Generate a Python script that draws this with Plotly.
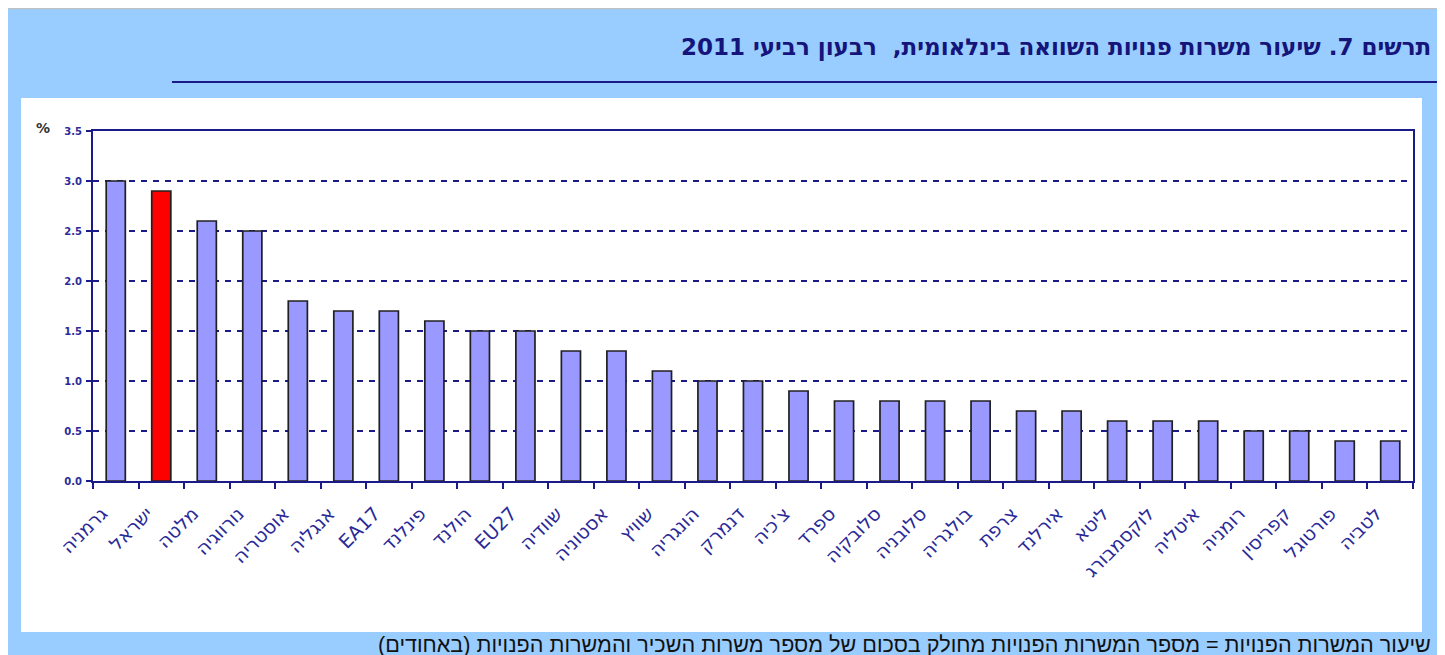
import plotly.graph_objects as go

countries = ["גרמניה", "ישראל", "מלטה", "נורווגיה", "אוסטריה", "אנגליה", "EA17", "פינלנד",
             "הולנד", "EU27", "שוודיה", "אסטוניה", "שוויץ", "הונגריה", "דנמרק", "צ'כיה",
             "ספרד", "סלובקיה", "סלובניה", "בולגריה", "צרפת", "אירלנד", "ליטא", "לוקסמבורג",
             "איטליה", "רומניה", "קפריסין", "פורטוגל", "לטביה"]
rates = [3.0, 2.9, 2.6, 2.5, 1.8, 1.7, 1.7, 1.6, 1.5, 1.5, 1.3, 1.3, 1.1, 1.0, 1.0, 0.9,
         0.8, 0.8, 0.8, 0.8, 0.7, 0.7, 0.6, 0.6, 0.6, 0.5, 0.5, 0.4, 0.4]
highlight = "ישראל"
y_ticks = [0.0, 0.5, 1.0, 1.5, 2.0, 2.5, 3.0, 3.5]

title_text = "תרשים 7. שיעור משרות פנויות השוואה בינלאומית,  רבעון רביעי 2011"
note_text = "שיעור המשרות הפנויות = מספר המשרות הפנויות מחולק בסכום של מספר משרות השכיר והמשרות הפנויות (באחודים)"

# the page body adds an 8px offset; positions below are given in screen pixels
OFF = 8
W, H = 1445, 655
SL, SR, ST, SB = 93, 1413, 131, 481          # plot area on screen
L, R, T, B = SL - OFF, SR - OFF, ST - OFF, SB - OFF
NAVY = "#1a1a88"


def px(xs):
    return (xs - SL) / (SR - SL)


def py(ys):
    return (SB - ys) / (SB - ST)


colors = ["#FF0000" if c == highlight else "#9999FF" for c in countries]

fig = go.Figure(go.Bar(
    x=countries, y=rates,
    marker=dict(color=colors, line=dict(color="#202020", width=1.7)),
    hoverinfo="x+y",
))

shapes = [
    # white panel
    dict(type="rect", xref="paper", yref="paper", x0=px(21), x1=px(1422), y0=py(632), y1=py(98),
         fillcolor="white", line=dict(width=0), layer="below"),
    # grey top border line
    dict(type="line", xref="paper", yref="paper", x0=px(0), x1=px(1440), y0=py(8.5), y1=py(8.5),
         line=dict(color="#c0c0c0", width=1.5), layer="below"),
    # right white strip and grey line
    dict(type="rect", xref="paper", yref="paper", x0=px(1439), x1=px(W + OFF), y0=py(H + OFF), y1=py(0),
         fillcolor="white", line=dict(width=0), layer="below"),
    dict(type="line", xref="paper", yref="paper", x0=px(1438.5), x1=px(1438.5), y0=py(H + OFF), y1=py(8),
         line=dict(color="#c0c0c0", width=1.5), layer="below"),
    # title underline
    dict(type="line", xref="paper", yref="paper", x0=px(172), x1=px(1437), y0=py(82), y1=py(82),
         line=dict(color=NAVY, width=2)),
]

annotations = [
    dict(text="\u200f" + title_text + "\u200f", xref="paper", yref="paper", x=px(1433), y=py(47),
         xanchor="right", yanchor="middle", showarrow=False,
         font=dict(family="DejaVu Sans, Liberation Sans", size=23,
                   color="#14147a", weight="bold")),
    dict(text="\u200f" + note_text + "\u200f", xref="paper", yref="paper", x=px(1433), y=py(644),
         xanchor="right", yanchor="middle", showarrow=False,
         font=dict(family="Liberation Sans, Arial", size=21.6, color="#111111")),
    dict(text="%", xref="paper", yref="paper", x=px(43), y=py(128),
         xanchor="center", yanchor="middle", showarrow=False,
         font=dict(family="DejaVu Sans, Verdana", size=14, color="#333333", weight="bold")),
]

fig.update_layout(
    width=W, height=H,
    margin=dict(l=L, r=W - R, t=T, b=H - B, pad=0),
    paper_bgcolor="#99CCFF",
    plot_bgcolor="white",
    bargap=0.58,
    showlegend=False,
    shapes=shapes,
    annotations=annotations,
    xaxis=dict(
        type="category",
        showline=True, linecolor=NAVY, linewidth=2, mirror=True,
        ticks="outside", tickson="boundaries", ticklen=6, tickcolor=NAVY, tickwidth=1.5,
        tickangle=-45,
        tickfont=dict(family="DejaVu Sans, Liberation Sans", size=19, color="#2a2a99"),
        showgrid=False,
        ticklabelstandoff=12,
        ticklabelshift=-14,
    ),
    yaxis=dict(
        range=[0, 3.5],
        tickvals=y_ticks,
        ticktext=[f"{v:.1f}" for v in y_ticks],
        showline=True, linecolor=NAVY, linewidth=2, mirror=True,
        ticks="outside", ticklen=5, tickcolor=NAVY, tickwidth=1.5,
        tickfont=dict(family="DejaVu Sans, Verdana", size=10, color="#2a2a99", weight="bold"),
        showgrid=True, gridcolor=NAVY, gridwidth=1.5, griddash="6px,6px",
        zeroline=False,
        ticklabelstandoff=2,
    ),
)

fig.write_html("out.html")
